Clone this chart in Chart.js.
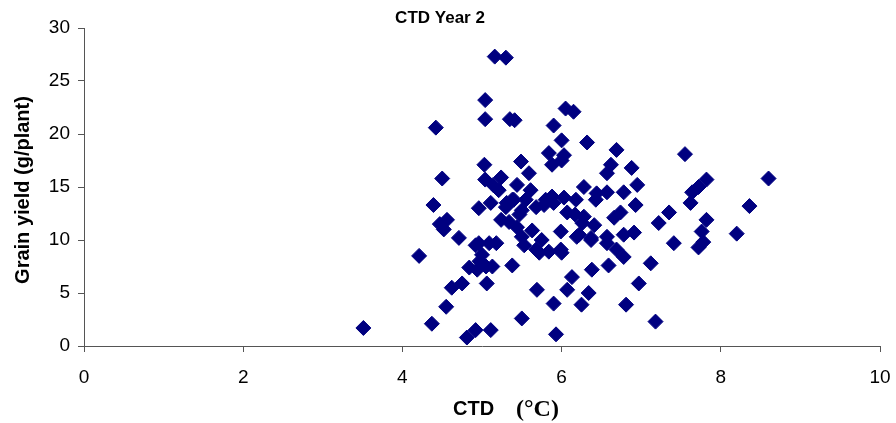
<!DOCTYPE html>
<html>
<head>
<meta charset="utf-8">
<script src="https://cdn.jsdelivr.net/npm/chart.js@4/dist/chart.umd.min.js"></script>
<style>
  html, body { margin: 0; padding: 0; background: #ffffff; }
  #wrap { width: 896px; height: 423px; position: relative; }
</style>
</head>
<body>
<div id="wrap"><canvas id="chart" width="896" height="423"></canvas></div>
<script>
// Canopy temperature depression (°C) for each plant, year 2
const ctd = [
  3.51, 4.21, 4.37, 4.39, 4.42, 4.47, 4.50, 4.52, 4.56, 4.55,
  4.62, 4.71, 4.75, 4.81, 4.84, 4.92, 4.94, 4.96, 4.92, 4.97,
  5.09, 5.03, 5.04, 5.04, 5.04, 5.06, 5.05, 5.11, 5.13, 5.14,
  5.16, 5.00, 5.24, 5.24, 5.30, 5.31, 5.35, 5.38, 5.40, 5.41,
  5.44, 5.44, 5.50, 5.49, 5.50, 5.55, 5.61, 5.63, 5.68, 5.69,
  5.68, 5.75, 5.80, 5.84, 5.84, 5.88, 5.88, 5.90, 5.90, 5.93,
  5.99, 6.00, 6.00, 6.00, 6.03, 6.05, 6.07, 6.07, 6.13, 6.15,
  6.03, 6.22, 6.25, 6.28, 6.18, 6.32, 6.34, 6.37, 6.26, 6.38,
  6.41, 6.44, 6.57, 6.59, 6.62, 6.57, 6.66, 6.69, 6.69, 6.78,
  6.81, 6.88, 6.78, 6.78, 6.91, 6.95, 6.93, 6.97, 7.12, 7.18,
  7.22, 7.35, 7.41, 7.55, 7.62, 7.64, 7.72, 7.82, 7.82, 7.76,
  7.78, 7.72, 8.20, 8.36, 8.60, 5.11, 5.30, 5.38, 5.50, 5.59,
  5.90, 5.99, 6.19, 6.37, 6.57, 6.74, 6.57, 4.96, 5.78, 5.18,
  5.53, 5.34, 5.47, 5.21, 6.43, 6.17, 6.28, 5.72
];

// Grain yield (g/plant), same order as ctd
const grainYield = [
  1.7, 8.5, 2.1, 13.3, 20.6, 11.5, 15.8, 11.0, 11.9, 3.7,
  5.5, 10.2, 5.9, 0.8, 7.4, 1.5, 7.2, 13.0, 9.5, 8.0,
  9.7, 17.1, 21.4, 23.2, 15.7, 5.9, 7.5, 1.5, 7.5, 15.2,
  27.3, 8.6, 15.9, 11.9, 27.2, 13.5, 21.4, 7.6, 13.8, 21.3,
  11.2, 15.2, 2.6, 17.4, 10.3, 13.8, 14.7, 10.9, 13.1, 5.3,
  9.1, 10.0, 13.8, 18.2, 8.9, 17.1, 14.1, 20.8, 4.0, 1.1,
  10.8, 8.8, 17.5, 19.4, 18.0, 22.4, 5.3, 12.6, 6.5, 22.1,
  14.0, 10.5, 3.9, 15.0, 13.8, 19.2, 5.0, 10.2, 11.6, 7.2,
  11.4, 14.4, 9.7, 7.6, 17.1, 16.3, 12.1, 18.5, 9.1, 8.4,
  3.9, 16.8, 10.5, 14.5, 10.7, 15.2, 13.3, 5.9, 7.8, 2.3,
  11.6, 12.6, 9.7, 18.1, 13.5, 14.5, 15.0, 15.7, 11.9, 10.8,
  9.8, 9.3, 10.6, 13.2, 15.8, 13.5, 13.1, 13.8, 12.8, 16.3,
  13.5, 9.1, 10.3, 10.0, 10.3, 12.6, 14.5, 9.7, 13.3, 9.7,
  9.5, 11.7, 12.4, 14.7, 13.8, 12.4, 12.2, 8.8
];

const xTickValues = [0, 2, 4, 6, 8, 10];
const yTickValues = [0, 5, 10, 15, 20, 25, 30];

const chartTitle = 'CTD Year 2';
const yAxisTitle = 'Grain yield (g/plant)';
const xAxisTitle = 'CTD';
const xAxisUnit = '(°C)';

const points = ctd.map((x, i) => ({ x: x, y: grainYield[i] }));

const AXIS_COLOR = '#555555';
const MARK_COLOR = '#000080';

// Titles are drawn at fixed spots so the plot area stays where it is.
const textPlugin = {
  id: 'textPlugin',
  afterDraw(chart) {
    const ctx = chart.ctx;
    const area = chart.chartArea;
    ctx.save();
    ctx.fillStyle = '#000000';
    ctx.textBaseline = 'middle';
    ctx.textAlign = 'center';

    ctx.font = 'bold 17px "Liberation Sans", Arial, sans-serif';
    ctx.fillText(chartTitle, 440, 18);

    ctx.save();
    ctx.translate(23, (area.top + area.bottom) / 2 + 3);
    ctx.rotate(-Math.PI / 2);
    ctx.font = 'bold 20px "Liberation Sans", Arial, sans-serif';
    ctx.fillText(yAxisTitle, 0, 0);
    ctx.restore();

    ctx.textAlign = 'left';
    ctx.font = 'bold 20px "Liberation Sans", Arial, sans-serif';
    ctx.fillText(xAxisTitle, 453, 409);
    ctx.font = 'bold 24px "Liberation Serif", "Times New Roman", serif';
    ctx.fillText(xAxisUnit, 516, 410);
    ctx.restore();
  }
};

// Keep the axes from reserving extra room for end labels.
function fixXBox(scale) {
  scale.height = 77;
  scale.paddingLeft = 0;
  scale.paddingRight = 0;
}
function fixYBox(scale) {
  scale.width = 84;
  scale.paddingTop = 0;
  scale.paddingBottom = 0;
}

new Chart(document.getElementById('chart'), {
  type: 'scatter',
  data: {
    datasets: [{
      data: points,
      pointStyle: 'rectRot',
      pointRadius: 7.5,
      pointHoverRadius: 7.5,
      pointBackgroundColor: MARK_COLOR,
      pointBorderColor: MARK_COLOR,
      pointBorderWidth: 1
    }]
  },
  options: {
    responsive: false,
    animation: false,
    events: [],
    layout: { padding: { top: 28, right: 16, left: 0, bottom: 0 } },
    plugins: {
      legend: { display: false },
      tooltip: { enabled: false },
      title: { display: false }
    },
    scales: {
      x: {
        type: 'linear',
        min: 0,
        max: 10,
        afterFit: fixXBox,
        afterBuildTicks(scale) { scale.ticks = xTickValues.map(v => ({ value: v })); },
        border: { display: true, color: AXIS_COLOR, width: 1 },
        grid: { display: true, drawOnChartArea: false, drawTicks: true, tickLength: 6, tickColor: AXIS_COLOR },
        ticks: {
          color: '#000000',
          font: { family: '"Liberation Sans", Arial, sans-serif', size: 19 },
          padding: 14,
          maxRotation: 0
        }
      },
      y: {
        type: 'linear',
        min: 0,
        max: 30,
        afterFit: fixYBox,
        afterBuildTicks(scale) { scale.ticks = yTickValues.map(v => ({ value: v })); },
        border: { display: true, color: AXIS_COLOR, width: 1 },
        grid: { display: true, drawOnChartArea: false, drawTicks: true, tickLength: 6, tickColor: AXIS_COLOR },
        ticks: {
          color: '#000000',
          font: { family: '"Liberation Sans", Arial, sans-serif', size: 19 },
          padding: 8
        }
      }
    }
  },
  plugins: [textPlugin]
});
</script>
</body>
</html>
